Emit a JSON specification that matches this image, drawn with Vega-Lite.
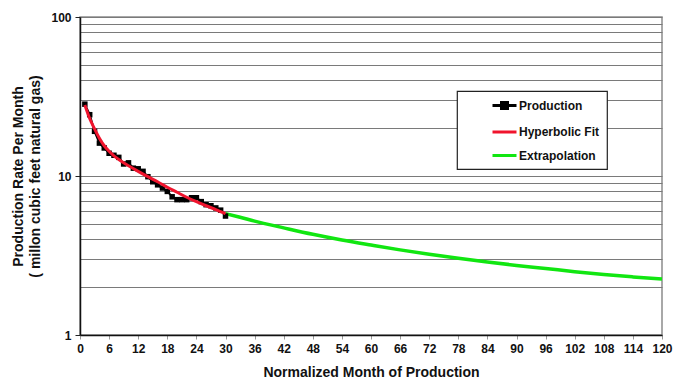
{
  "$schema": "https://vega.github.io/schema/vega-lite/v6.json",
  "width": 582,
  "height": 318,
  "autosize": {"type": "none"},
  "padding": {"left": 80, "top": 17, "right": 15, "bottom": 55},
  "background": "white",
  "config": {
    "font": "Liberation Sans",
    "view": {"stroke": "#8c8c8c", "strokeWidth": 1.5}
  },
  "data": {
    "values": [
      {"series": "Production", "month": 1, "value": 28.3},
      {"series": "Production", "month": 2, "value": 24.3},
      {"series": "Production", "month": 3, "value": 19.1},
      {"series": "Production", "month": 4, "value": 16.1},
      {"series": "Production", "month": 5, "value": 15.0},
      {"series": "Production", "month": 6, "value": 13.9},
      {"series": "Production", "month": 7, "value": 13.5},
      {"series": "Production", "month": 8, "value": 13.1},
      {"series": "Production", "month": 9, "value": 11.9},
      {"series": "Production", "month": 10, "value": 12.1},
      {"series": "Production", "month": 11, "value": 11.2},
      {"series": "Production", "month": 12, "value": 11.1},
      {"series": "Production", "month": 13, "value": 10.7},
      {"series": "Production", "month": 14, "value": 9.9},
      {"series": "Production", "month": 15, "value": 9.2},
      {"series": "Production", "month": 16, "value": 8.8},
      {"series": "Production", "month": 17, "value": 8.4},
      {"series": "Production", "month": 18, "value": 8.0},
      {"series": "Production", "month": 19, "value": 7.4},
      {"series": "Production", "month": 20, "value": 7.1},
      {"series": "Production", "month": 21, "value": 7.1},
      {"series": "Production", "month": 22, "value": 7.1},
      {"series": "Production", "month": 23, "value": 7.3},
      {"series": "Production", "month": 24, "value": 7.3},
      {"series": "Production", "month": 25, "value": 6.9},
      {"series": "Production", "month": 26, "value": 6.6},
      {"series": "Production", "month": 27, "value": 6.5},
      {"series": "Production", "month": 28, "value": 6.3},
      {"series": "Production", "month": 29, "value": 6.1},
      {"series": "Production", "month": 30, "value": 5.6},
      {"series": "Hyperbolic Fit", "month": 1, "value": 28.0},
      {"series": "Hyperbolic Fit", "month": 2, "value": 23.0},
      {"series": "Hyperbolic Fit", "month": 3, "value": 19.8},
      {"series": "Hyperbolic Fit", "month": 4, "value": 17.3},
      {"series": "Hyperbolic Fit", "month": 5, "value": 15.5},
      {"series": "Hyperbolic Fit", "month": 6, "value": 14.3},
      {"series": "Hyperbolic Fit", "month": 7, "value": 13.4},
      {"series": "Hyperbolic Fit", "month": 8, "value": 12.7},
      {"series": "Hyperbolic Fit", "month": 9, "value": 12.1},
      {"series": "Hyperbolic Fit", "month": 10, "value": 11.6},
      {"series": "Hyperbolic Fit", "month": 12, "value": 10.7},
      {"series": "Hyperbolic Fit", "month": 14, "value": 9.9},
      {"series": "Hyperbolic Fit", "month": 16, "value": 9.2},
      {"series": "Hyperbolic Fit", "month": 18, "value": 8.5},
      {"series": "Hyperbolic Fit", "month": 20, "value": 7.9},
      {"series": "Hyperbolic Fit", "month": 22, "value": 7.35},
      {"series": "Hyperbolic Fit", "month": 24, "value": 6.9},
      {"series": "Hyperbolic Fit", "month": 26, "value": 6.5},
      {"series": "Hyperbolic Fit", "month": 28, "value": 6.15},
      {"series": "Hyperbolic Fit", "month": 30, "value": 5.8},
      {"series": "Extrapolation", "month": 30, "value": 5.8},
      {"series": "Extrapolation", "month": 33, "value": 5.5},
      {"series": "Extrapolation", "month": 36, "value": 5.2},
      {"series": "Extrapolation", "month": 42, "value": 4.72},
      {"series": "Extrapolation", "month": 48, "value": 4.3},
      {"series": "Extrapolation", "month": 54, "value": 3.96},
      {"series": "Extrapolation", "month": 60, "value": 3.68},
      {"series": "Extrapolation", "month": 66, "value": 3.43},
      {"series": "Extrapolation", "month": 72, "value": 3.22},
      {"series": "Extrapolation", "month": 78, "value": 3.04},
      {"series": "Extrapolation", "month": 84, "value": 2.88},
      {"series": "Extrapolation", "month": 90, "value": 2.74},
      {"series": "Extrapolation", "month": 96, "value": 2.62},
      {"series": "Extrapolation", "month": 102, "value": 2.5},
      {"series": "Extrapolation", "month": 108, "value": 2.4},
      {"series": "Extrapolation", "month": 114, "value": 2.32},
      {"series": "Extrapolation", "month": 120, "value": 2.25}
    ]
  },
  "encoding": {
    "x": {
      "field": "month",
      "type": "quantitative",
      "scale": {"domain": [0, 120], "nice": false, "zero": false},
      "axis": {
        "values": [0, 6, 12, 18, 24, 30, 36, 42, 48, 54, 60, 66, 72, 78, 84, 90, 96, 102, 108, 114, 120],
        "grid": false,
        "title": "Normalized Month of Production",
        "titleFontSize": 14,
        "titleFontWeight": "bold",
        "titleColor": "#111111",
        "titlePadding": 11,
        "labelFontSize": 12,
        "labelFontWeight": "bold",
        "labelColor": "#111111",
        "labelPadding": 4,
        "labelFlush": false,
        "labelOverlap": false,
        "tickColor": "#999999",
        "tickSize": 4,
        "domainColor": "#111111",
        "domainWidth": 1.5
      }
    },
    "y": {
      "field": "value",
      "type": "quantitative",
      "scale": {"type": "log", "domain": [1, 100], "nice": false},
      "axis": {
        "values": [1, 2, 3, 4, 5, 6, 7, 8, 9, 10, 20, 30, 40, 50, 60, 70, 80, 90, 100],
        "format": "d",
        "labelExpr": "(datum.value == 1 || datum.value == 10 || datum.value == 100) ? datum.label : ''",
        "grid": true,
        "gridColor": "#7a7a7a",
        "gridWidth": 1.2,
        "tickColor": {"condition": {"test": "datum.value == 1 || datum.value == 10 || datum.value == 100", "value": "#222222"}, "value": "transparent"},
        "tickSize": 5,
        "labelFontSize": 12,
        "labelFontWeight": "bold",
        "labelColor": "#111111",
        "labelPadding": 4,
        "labelFlush": false,
        "labelOverlap": false,
        "domainColor": "#111111",
        "domainWidth": 1.5,
        "title": ["Production Rate Per Month", "( millon cubic feet natural gas)"],
        "titleFontSize": 14,
        "titleFontWeight": "bold",
        "titleColor": "#111111",
        "titleLineHeight": 17,
        "titlePadding": 8
      }
    },
    "color": {
      "field": "series",
      "type": "nominal",
      "scale": {
        "domain": ["Production", "Hyperbolic Fit", "Extrapolation"],
        "range": ["#000000", "#f0142d", "#11e611"]
      },
      "legend": {
        "title": null,
        "orient": "none",
        "legendX": 377,
        "legendY": 74,
        "fillColor": "white",
        "strokeColor": "#222222",
        "padding": 7,
        "symbolType": "stroke",
        "symbolSize": 144,
        "symbolStrokeWidth": 3,
        "symbolOffset": 33,
        "labelOffset": 7,
        "labelFontSize": 12,
        "labelFontWeight": "bold",
        "labelColor": "#111111",
        "labelExpr": "datum.label + '\u00a0\u00a0\u00a0\u00a0\u00a0\u00a0\u00a0\u00a0\u00a0'",
        "rowPadding": 9.5,
        "encode": {
          "legend": {"update": {"strokeWidth": {"value": 1.2}}},
          "symbols": {
            "update": {
              "shape": {"signal": "datum.value === 'Production' ? 'M-2,0H2M-0.5,-0.5H0.5V0.5H-0.5Z' : 'M-2,0H2'"},
              "fill": {"signal": "datum.value === 'Production' ? '#000000' : 'transparent'"}
            }
          }
        }
      }
    }
  },
  "layer": [
    {
      "transform": [{"filter": "datum.series == 'Extrapolation'"}],
      "mark": {"type": "line", "interpolate": "monotone", "strokeWidth": 3.5}
    },
    {
      "transform": [{"filter": "datum.series == 'Production'"}],
      "mark": {"type": "line", "strokeWidth": 2}
    },
    {
      "transform": [{"filter": "datum.series == 'Production'"}],
      "mark": {"type": "point", "shape": "square", "filled": true, "size": 30, "opacity": 1}
    },
    {
      "transform": [{"filter": "datum.series == 'Hyperbolic Fit'"}],
      "mark": {"type": "line", "interpolate": "monotone", "strokeWidth": 3}
    }
  ]
}
